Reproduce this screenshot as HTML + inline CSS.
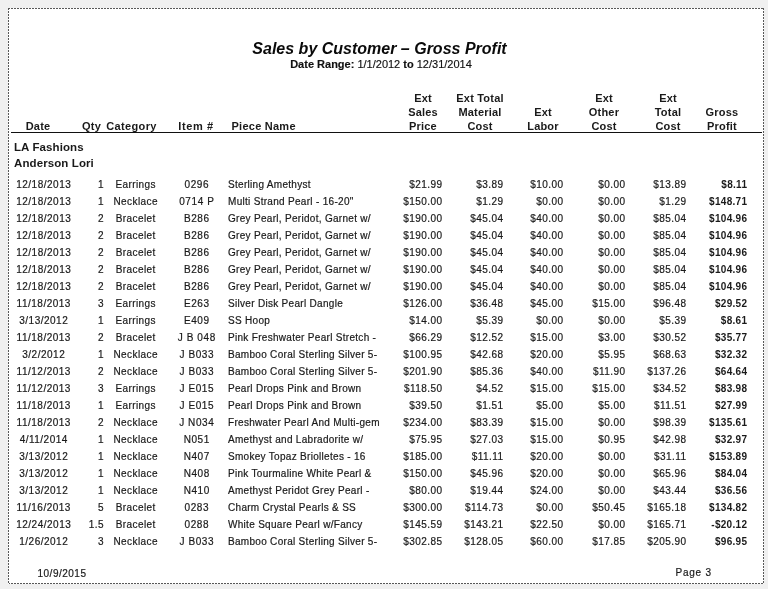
<!DOCTYPE html>
<html><head><meta charset="utf-8">
<style>
html,body{margin:0;padding:0}
body{width:768px;height:589px;background:#f0f0f0;position:relative;overflow:hidden;font-family:"Liberation Sans",sans-serif;color:#1a1a1a}
.page{position:absolute;left:8px;top:8px;width:756px;height:576px;background:#fff}
.bt,.bb{position:absolute;left:8px;width:756px;height:1px;background:repeating-linear-gradient(to right,#585858 0,#585858 2px,#fff 2px,#fff 3px)}
.bl,.br{position:absolute;top:8px;height:576px;width:1px;background:repeating-linear-gradient(to bottom,#585858 0,#585858 2px,#fff 2px,#fff 3px)}
.a{position:absolute;white-space:nowrap}
.d{position:absolute;white-space:nowrap;font-size:10px;line-height:10px;letter-spacing:0.3px;-webkit-text-stroke:0.2px #1a1a1a}
.b{font-weight:bold;-webkit-text-stroke:0;font-size:10px}
.wrap{position:absolute;left:0;top:0;width:768px;height:589px;will-change:transform}
.h{position:absolute;white-space:nowrap;font-size:11px;line-height:14px;font-weight:bold;text-align:center;letter-spacing:0.2px}
.title{position:absolute;left:0;width:768px;text-align:center;font-size:16px;font-weight:bold;font-style:italic;line-height:16px;color:#0a0a0a}
.range{position:absolute;left:0;width:768px;text-align:center;font-size:11px;line-height:11px;color:#111;-webkit-text-stroke:0.15px #111}
.rule{position:absolute;left:11px;width:751px;top:132px;height:1px;background:#111}
.grp{position:absolute;left:14px;font-size:11.5px;font-weight:bold;line-height:12px;letter-spacing:0.1px}
</style></head><body><div class="wrap">
<div class="page"></div><div class="bt" style="top:8px"></div><div class="bb" style="top:583px"></div><div class="bl" style="left:8px"></div><div class="br" style="left:763px"></div>
<div class="title" style="top:41px;left:-4.5px">Sales by Customer – Gross Profit</div>
<div class="range" style="top:59px;left:-3px"><b>Date Range:</b> 1/1/2012 <b>to</b> 12/31/2014</div>

<div class="h" style="left:-67px;width:210px;top:119px;letter-spacing:0.15px">Date</div>
<div class="h" style="left:-8.5px;width:200px;top:119px">Qty</div>
<div class="h" style="left:26.5px;width:210px;top:119px;letter-spacing:0.35px">Category</div>
<div class="h" style="left:96px;width:200px;top:119px;letter-spacing:0.6px">Item #</div>
<div class="h" style="left:231.5px;top:119px;letter-spacing:0.25px">Piece Name</div>
<div class="h" style="left:373px;width:100px;top:91px">Ext<br>Sales<br>Price</div>
<div class="h" style="left:430px;width:100px;top:91px">Ext Total<br>Material<br>Cost</div>
<div class="h" style="left:493px;width:100px;top:105px">Ext<br>Labor</div>
<div class="h" style="left:554px;width:100px;top:91px">Ext<br>Other<br>Cost</div>
<div class="h" style="left:618px;width:100px;top:91px">Ext<br>Total<br>Cost</div>
<div class="h" style="left:672px;width:100px;top:105px">Gross<br>Profit</div>
<div class="rule"></div>

<div class="grp" style="top:141px">LA Fashions</div>
<div class="grp" style="top:157px">Anderson Lori</div>

<div class="d" style="top:180px;left:-56.25px;width:200px;text-align:center;letter-spacing:0.5px">12/18/2013</div>
<div class="d" style="top:180px;left:-96.05px;width:200px;text-align:right;letter-spacing:0.45px">1</div>
<div class="d" style="top:180px;left:35.71px;width:200px;text-align:center;letter-spacing:0.42px">Earrings</div>
<div class="d" style="top:180px;left:96.8px;width:200px;text-align:center;letter-spacing:0.6px">0296</div>
<div class="d" style="top:180px;left:228px;letter-spacing:0.3px">Sterling Amethyst</div>
<div class="d" style="top:180px;left:242.45px;width:200px;text-align:right;letter-spacing:0.45px">$21.99</div>
<div class="d" style="top:180px;left:303.45px;width:200px;text-align:right;letter-spacing:0.45px">$3.89</div>
<div class="d" style="top:180px;left:363.45px;width:200px;text-align:right;letter-spacing:0.45px">$10.00</div>
<div class="d" style="top:180px;left:425.45px;width:200px;text-align:right;letter-spacing:0.45px">$0.00</div>
<div class="d" style="top:180px;left:486.45px;width:200px;text-align:right;letter-spacing:0.45px">$13.89</div>
<div class="d b" style="top:180px;left:547.3px;width:200px;text-align:right;letter-spacing:0.3px">$8.11</div>
<div class="d" style="top:197px;left:-56.25px;width:200px;text-align:center;letter-spacing:0.5px">12/18/2013</div>
<div class="d" style="top:197px;left:-96.05px;width:200px;text-align:right;letter-spacing:0.45px">1</div>
<div class="d" style="top:197px;left:35.71px;width:200px;text-align:center;letter-spacing:0.42px">Necklace</div>
<div class="d" style="top:197px;left:96.8px;width:200px;text-align:center;letter-spacing:0.6px">0714 P</div>
<div class="d" style="top:197px;left:228px;letter-spacing:0.3px">Multi Strand Pearl - 16-20"</div>
<div class="d" style="top:197px;left:242.45px;width:200px;text-align:right;letter-spacing:0.45px">$150.00</div>
<div class="d" style="top:197px;left:303.45px;width:200px;text-align:right;letter-spacing:0.45px">$1.29</div>
<div class="d" style="top:197px;left:363.45px;width:200px;text-align:right;letter-spacing:0.45px">$0.00</div>
<div class="d" style="top:197px;left:425.45px;width:200px;text-align:right;letter-spacing:0.45px">$0.00</div>
<div class="d" style="top:197px;left:486.45px;width:200px;text-align:right;letter-spacing:0.45px">$1.29</div>
<div class="d b" style="top:197px;left:547.3px;width:200px;text-align:right;letter-spacing:0.3px">$148.71</div>
<div class="d" style="top:214px;left:-56.25px;width:200px;text-align:center;letter-spacing:0.5px">12/18/2013</div>
<div class="d" style="top:214px;left:-96.05px;width:200px;text-align:right;letter-spacing:0.45px">2</div>
<div class="d" style="top:214px;left:35.71px;width:200px;text-align:center;letter-spacing:0.42px">Bracelet</div>
<div class="d" style="top:214px;left:96.8px;width:200px;text-align:center;letter-spacing:0.6px">B286</div>
<div class="d" style="top:214px;left:228px;letter-spacing:0.3px">Grey Pearl, Peridot, Garnet w/</div>
<div class="d" style="top:214px;left:242.45px;width:200px;text-align:right;letter-spacing:0.45px">$190.00</div>
<div class="d" style="top:214px;left:303.45px;width:200px;text-align:right;letter-spacing:0.45px">$45.04</div>
<div class="d" style="top:214px;left:363.45px;width:200px;text-align:right;letter-spacing:0.45px">$40.00</div>
<div class="d" style="top:214px;left:425.45px;width:200px;text-align:right;letter-spacing:0.45px">$0.00</div>
<div class="d" style="top:214px;left:486.45px;width:200px;text-align:right;letter-spacing:0.45px">$85.04</div>
<div class="d b" style="top:214px;left:547.3px;width:200px;text-align:right;letter-spacing:0.3px">$104.96</div>
<div class="d" style="top:231px;left:-56.25px;width:200px;text-align:center;letter-spacing:0.5px">12/18/2013</div>
<div class="d" style="top:231px;left:-96.05px;width:200px;text-align:right;letter-spacing:0.45px">2</div>
<div class="d" style="top:231px;left:35.71px;width:200px;text-align:center;letter-spacing:0.42px">Bracelet</div>
<div class="d" style="top:231px;left:96.8px;width:200px;text-align:center;letter-spacing:0.6px">B286</div>
<div class="d" style="top:231px;left:228px;letter-spacing:0.3px">Grey Pearl, Peridot, Garnet w/</div>
<div class="d" style="top:231px;left:242.45px;width:200px;text-align:right;letter-spacing:0.45px">$190.00</div>
<div class="d" style="top:231px;left:303.45px;width:200px;text-align:right;letter-spacing:0.45px">$45.04</div>
<div class="d" style="top:231px;left:363.45px;width:200px;text-align:right;letter-spacing:0.45px">$40.00</div>
<div class="d" style="top:231px;left:425.45px;width:200px;text-align:right;letter-spacing:0.45px">$0.00</div>
<div class="d" style="top:231px;left:486.45px;width:200px;text-align:right;letter-spacing:0.45px">$85.04</div>
<div class="d b" style="top:231px;left:547.3px;width:200px;text-align:right;letter-spacing:0.3px">$104.96</div>
<div class="d" style="top:248px;left:-56.25px;width:200px;text-align:center;letter-spacing:0.5px">12/18/2013</div>
<div class="d" style="top:248px;left:-96.05px;width:200px;text-align:right;letter-spacing:0.45px">2</div>
<div class="d" style="top:248px;left:35.71px;width:200px;text-align:center;letter-spacing:0.42px">Bracelet</div>
<div class="d" style="top:248px;left:96.8px;width:200px;text-align:center;letter-spacing:0.6px">B286</div>
<div class="d" style="top:248px;left:228px;letter-spacing:0.3px">Grey Pearl, Peridot, Garnet w/</div>
<div class="d" style="top:248px;left:242.45px;width:200px;text-align:right;letter-spacing:0.45px">$190.00</div>
<div class="d" style="top:248px;left:303.45px;width:200px;text-align:right;letter-spacing:0.45px">$45.04</div>
<div class="d" style="top:248px;left:363.45px;width:200px;text-align:right;letter-spacing:0.45px">$40.00</div>
<div class="d" style="top:248px;left:425.45px;width:200px;text-align:right;letter-spacing:0.45px">$0.00</div>
<div class="d" style="top:248px;left:486.45px;width:200px;text-align:right;letter-spacing:0.45px">$85.04</div>
<div class="d b" style="top:248px;left:547.3px;width:200px;text-align:right;letter-spacing:0.3px">$104.96</div>
<div class="d" style="top:265px;left:-56.25px;width:200px;text-align:center;letter-spacing:0.5px">12/18/2013</div>
<div class="d" style="top:265px;left:-96.05px;width:200px;text-align:right;letter-spacing:0.45px">2</div>
<div class="d" style="top:265px;left:35.71px;width:200px;text-align:center;letter-spacing:0.42px">Bracelet</div>
<div class="d" style="top:265px;left:96.8px;width:200px;text-align:center;letter-spacing:0.6px">B286</div>
<div class="d" style="top:265px;left:228px;letter-spacing:0.3px">Grey Pearl, Peridot, Garnet w/</div>
<div class="d" style="top:265px;left:242.45px;width:200px;text-align:right;letter-spacing:0.45px">$190.00</div>
<div class="d" style="top:265px;left:303.45px;width:200px;text-align:right;letter-spacing:0.45px">$45.04</div>
<div class="d" style="top:265px;left:363.45px;width:200px;text-align:right;letter-spacing:0.45px">$40.00</div>
<div class="d" style="top:265px;left:425.45px;width:200px;text-align:right;letter-spacing:0.45px">$0.00</div>
<div class="d" style="top:265px;left:486.45px;width:200px;text-align:right;letter-spacing:0.45px">$85.04</div>
<div class="d b" style="top:265px;left:547.3px;width:200px;text-align:right;letter-spacing:0.3px">$104.96</div>
<div class="d" style="top:282px;left:-56.25px;width:200px;text-align:center;letter-spacing:0.5px">12/18/2013</div>
<div class="d" style="top:282px;left:-96.05px;width:200px;text-align:right;letter-spacing:0.45px">2</div>
<div class="d" style="top:282px;left:35.71px;width:200px;text-align:center;letter-spacing:0.42px">Bracelet</div>
<div class="d" style="top:282px;left:96.8px;width:200px;text-align:center;letter-spacing:0.6px">B286</div>
<div class="d" style="top:282px;left:228px;letter-spacing:0.3px">Grey Pearl, Peridot, Garnet w/</div>
<div class="d" style="top:282px;left:242.45px;width:200px;text-align:right;letter-spacing:0.45px">$190.00</div>
<div class="d" style="top:282px;left:303.45px;width:200px;text-align:right;letter-spacing:0.45px">$45.04</div>
<div class="d" style="top:282px;left:363.45px;width:200px;text-align:right;letter-spacing:0.45px">$40.00</div>
<div class="d" style="top:282px;left:425.45px;width:200px;text-align:right;letter-spacing:0.45px">$0.00</div>
<div class="d" style="top:282px;left:486.45px;width:200px;text-align:right;letter-spacing:0.45px">$85.04</div>
<div class="d b" style="top:282px;left:547.3px;width:200px;text-align:right;letter-spacing:0.3px">$104.96</div>
<div class="d" style="top:299px;left:-56.25px;width:200px;text-align:center;letter-spacing:0.5px">11/18/2013</div>
<div class="d" style="top:299px;left:-96.05px;width:200px;text-align:right;letter-spacing:0.45px">3</div>
<div class="d" style="top:299px;left:35.71px;width:200px;text-align:center;letter-spacing:0.42px">Earrings</div>
<div class="d" style="top:299px;left:96.8px;width:200px;text-align:center;letter-spacing:0.6px">E263</div>
<div class="d" style="top:299px;left:228px;letter-spacing:0.3px">Silver Disk Pearl Dangle</div>
<div class="d" style="top:299px;left:242.45px;width:200px;text-align:right;letter-spacing:0.45px">$126.00</div>
<div class="d" style="top:299px;left:303.45px;width:200px;text-align:right;letter-spacing:0.45px">$36.48</div>
<div class="d" style="top:299px;left:363.45px;width:200px;text-align:right;letter-spacing:0.45px">$45.00</div>
<div class="d" style="top:299px;left:425.45px;width:200px;text-align:right;letter-spacing:0.45px">$15.00</div>
<div class="d" style="top:299px;left:486.45px;width:200px;text-align:right;letter-spacing:0.45px">$96.48</div>
<div class="d b" style="top:299px;left:547.3px;width:200px;text-align:right;letter-spacing:0.3px">$29.52</div>
<div class="d" style="top:316px;left:-56.25px;width:200px;text-align:center;letter-spacing:0.5px">3/13/2012</div>
<div class="d" style="top:316px;left:-96.05px;width:200px;text-align:right;letter-spacing:0.45px">1</div>
<div class="d" style="top:316px;left:35.71px;width:200px;text-align:center;letter-spacing:0.42px">Earrings</div>
<div class="d" style="top:316px;left:96.8px;width:200px;text-align:center;letter-spacing:0.6px">E409</div>
<div class="d" style="top:316px;left:228px;letter-spacing:0.3px">SS Hoop</div>
<div class="d" style="top:316px;left:242.45px;width:200px;text-align:right;letter-spacing:0.45px">$14.00</div>
<div class="d" style="top:316px;left:303.45px;width:200px;text-align:right;letter-spacing:0.45px">$5.39</div>
<div class="d" style="top:316px;left:363.45px;width:200px;text-align:right;letter-spacing:0.45px">$0.00</div>
<div class="d" style="top:316px;left:425.45px;width:200px;text-align:right;letter-spacing:0.45px">$0.00</div>
<div class="d" style="top:316px;left:486.45px;width:200px;text-align:right;letter-spacing:0.45px">$5.39</div>
<div class="d b" style="top:316px;left:547.3px;width:200px;text-align:right;letter-spacing:0.3px">$8.61</div>
<div class="d" style="top:333px;left:-56.25px;width:200px;text-align:center;letter-spacing:0.5px">11/18/2013</div>
<div class="d" style="top:333px;left:-96.05px;width:200px;text-align:right;letter-spacing:0.45px">2</div>
<div class="d" style="top:333px;left:35.71px;width:200px;text-align:center;letter-spacing:0.42px">Bracelet</div>
<div class="d" style="top:333px;left:96.8px;width:200px;text-align:center;letter-spacing:0.6px">J B 048</div>
<div class="d" style="top:333px;left:228px;letter-spacing:0.3px">Pink Freshwater Pearl Stretch -</div>
<div class="d" style="top:333px;left:242.45px;width:200px;text-align:right;letter-spacing:0.45px">$66.29</div>
<div class="d" style="top:333px;left:303.45px;width:200px;text-align:right;letter-spacing:0.45px">$12.52</div>
<div class="d" style="top:333px;left:363.45px;width:200px;text-align:right;letter-spacing:0.45px">$15.00</div>
<div class="d" style="top:333px;left:425.45px;width:200px;text-align:right;letter-spacing:0.45px">$3.00</div>
<div class="d" style="top:333px;left:486.45px;width:200px;text-align:right;letter-spacing:0.45px">$30.52</div>
<div class="d b" style="top:333px;left:547.3px;width:200px;text-align:right;letter-spacing:0.3px">$35.77</div>
<div class="d" style="top:350px;left:-56.25px;width:200px;text-align:center;letter-spacing:0.5px">3/2/2012</div>
<div class="d" style="top:350px;left:-96.05px;width:200px;text-align:right;letter-spacing:0.45px">1</div>
<div class="d" style="top:350px;left:35.71px;width:200px;text-align:center;letter-spacing:0.42px">Necklace</div>
<div class="d" style="top:350px;left:96.8px;width:200px;text-align:center;letter-spacing:0.6px">J B033</div>
<div class="d" style="top:350px;left:228px;letter-spacing:0.3px">Bamboo Coral Sterling Silver 5-</div>
<div class="d" style="top:350px;left:242.45px;width:200px;text-align:right;letter-spacing:0.45px">$100.95</div>
<div class="d" style="top:350px;left:303.45px;width:200px;text-align:right;letter-spacing:0.45px">$42.68</div>
<div class="d" style="top:350px;left:363.45px;width:200px;text-align:right;letter-spacing:0.45px">$20.00</div>
<div class="d" style="top:350px;left:425.45px;width:200px;text-align:right;letter-spacing:0.45px">$5.95</div>
<div class="d" style="top:350px;left:486.45px;width:200px;text-align:right;letter-spacing:0.45px">$68.63</div>
<div class="d b" style="top:350px;left:547.3px;width:200px;text-align:right;letter-spacing:0.3px">$32.32</div>
<div class="d" style="top:367px;left:-56.25px;width:200px;text-align:center;letter-spacing:0.5px">11/12/2013</div>
<div class="d" style="top:367px;left:-96.05px;width:200px;text-align:right;letter-spacing:0.45px">2</div>
<div class="d" style="top:367px;left:35.71px;width:200px;text-align:center;letter-spacing:0.42px">Necklace</div>
<div class="d" style="top:367px;left:96.8px;width:200px;text-align:center;letter-spacing:0.6px">J B033</div>
<div class="d" style="top:367px;left:228px;letter-spacing:0.3px">Bamboo Coral Sterling Silver 5-</div>
<div class="d" style="top:367px;left:242.45px;width:200px;text-align:right;letter-spacing:0.45px">$201.90</div>
<div class="d" style="top:367px;left:303.45px;width:200px;text-align:right;letter-spacing:0.45px">$85.36</div>
<div class="d" style="top:367px;left:363.45px;width:200px;text-align:right;letter-spacing:0.45px">$40.00</div>
<div class="d" style="top:367px;left:425.45px;width:200px;text-align:right;letter-spacing:0.45px">$11.90</div>
<div class="d" style="top:367px;left:486.45px;width:200px;text-align:right;letter-spacing:0.45px">$137.26</div>
<div class="d b" style="top:367px;left:547.3px;width:200px;text-align:right;letter-spacing:0.3px">$64.64</div>
<div class="d" style="top:384px;left:-56.25px;width:200px;text-align:center;letter-spacing:0.5px">11/12/2013</div>
<div class="d" style="top:384px;left:-96.05px;width:200px;text-align:right;letter-spacing:0.45px">3</div>
<div class="d" style="top:384px;left:35.71px;width:200px;text-align:center;letter-spacing:0.42px">Earrings</div>
<div class="d" style="top:384px;left:96.8px;width:200px;text-align:center;letter-spacing:0.6px">J E015</div>
<div class="d" style="top:384px;left:228px;letter-spacing:0.3px">Pearl Drops Pink and Brown</div>
<div class="d" style="top:384px;left:242.45px;width:200px;text-align:right;letter-spacing:0.45px">$118.50</div>
<div class="d" style="top:384px;left:303.45px;width:200px;text-align:right;letter-spacing:0.45px">$4.52</div>
<div class="d" style="top:384px;left:363.45px;width:200px;text-align:right;letter-spacing:0.45px">$15.00</div>
<div class="d" style="top:384px;left:425.45px;width:200px;text-align:right;letter-spacing:0.45px">$15.00</div>
<div class="d" style="top:384px;left:486.45px;width:200px;text-align:right;letter-spacing:0.45px">$34.52</div>
<div class="d b" style="top:384px;left:547.3px;width:200px;text-align:right;letter-spacing:0.3px">$83.98</div>
<div class="d" style="top:401px;left:-56.25px;width:200px;text-align:center;letter-spacing:0.5px">11/18/2013</div>
<div class="d" style="top:401px;left:-96.05px;width:200px;text-align:right;letter-spacing:0.45px">1</div>
<div class="d" style="top:401px;left:35.71px;width:200px;text-align:center;letter-spacing:0.42px">Earrings</div>
<div class="d" style="top:401px;left:96.8px;width:200px;text-align:center;letter-spacing:0.6px">J E015</div>
<div class="d" style="top:401px;left:228px;letter-spacing:0.3px">Pearl Drops Pink and Brown</div>
<div class="d" style="top:401px;left:242.45px;width:200px;text-align:right;letter-spacing:0.45px">$39.50</div>
<div class="d" style="top:401px;left:303.45px;width:200px;text-align:right;letter-spacing:0.45px">$1.51</div>
<div class="d" style="top:401px;left:363.45px;width:200px;text-align:right;letter-spacing:0.45px">$5.00</div>
<div class="d" style="top:401px;left:425.45px;width:200px;text-align:right;letter-spacing:0.45px">$5.00</div>
<div class="d" style="top:401px;left:486.45px;width:200px;text-align:right;letter-spacing:0.45px">$11.51</div>
<div class="d b" style="top:401px;left:547.3px;width:200px;text-align:right;letter-spacing:0.3px">$27.99</div>
<div class="d" style="top:418px;left:-56.25px;width:200px;text-align:center;letter-spacing:0.5px">11/18/2013</div>
<div class="d" style="top:418px;left:-96.05px;width:200px;text-align:right;letter-spacing:0.45px">2</div>
<div class="d" style="top:418px;left:35.71px;width:200px;text-align:center;letter-spacing:0.42px">Necklace</div>
<div class="d" style="top:418px;left:96.8px;width:200px;text-align:center;letter-spacing:0.6px">J N034</div>
<div class="d" style="top:418px;left:228px;letter-spacing:0.3px">Freshwater Pearl And Multi-gem</div>
<div class="d" style="top:418px;left:242.45px;width:200px;text-align:right;letter-spacing:0.45px">$234.00</div>
<div class="d" style="top:418px;left:303.45px;width:200px;text-align:right;letter-spacing:0.45px">$83.39</div>
<div class="d" style="top:418px;left:363.45px;width:200px;text-align:right;letter-spacing:0.45px">$15.00</div>
<div class="d" style="top:418px;left:425.45px;width:200px;text-align:right;letter-spacing:0.45px">$0.00</div>
<div class="d" style="top:418px;left:486.45px;width:200px;text-align:right;letter-spacing:0.45px">$98.39</div>
<div class="d b" style="top:418px;left:547.3px;width:200px;text-align:right;letter-spacing:0.3px">$135.61</div>
<div class="d" style="top:435px;left:-56.25px;width:200px;text-align:center;letter-spacing:0.5px">4/11/2014</div>
<div class="d" style="top:435px;left:-96.05px;width:200px;text-align:right;letter-spacing:0.45px">1</div>
<div class="d" style="top:435px;left:35.71px;width:200px;text-align:center;letter-spacing:0.42px">Necklace</div>
<div class="d" style="top:435px;left:96.8px;width:200px;text-align:center;letter-spacing:0.6px">N051</div>
<div class="d" style="top:435px;left:228px;letter-spacing:0.3px">Amethyst and Labradorite w/</div>
<div class="d" style="top:435px;left:242.45px;width:200px;text-align:right;letter-spacing:0.45px">$75.95</div>
<div class="d" style="top:435px;left:303.45px;width:200px;text-align:right;letter-spacing:0.45px">$27.03</div>
<div class="d" style="top:435px;left:363.45px;width:200px;text-align:right;letter-spacing:0.45px">$15.00</div>
<div class="d" style="top:435px;left:425.45px;width:200px;text-align:right;letter-spacing:0.45px">$0.95</div>
<div class="d" style="top:435px;left:486.45px;width:200px;text-align:right;letter-spacing:0.45px">$42.98</div>
<div class="d b" style="top:435px;left:547.3px;width:200px;text-align:right;letter-spacing:0.3px">$32.97</div>
<div class="d" style="top:452px;left:-56.25px;width:200px;text-align:center;letter-spacing:0.5px">3/13/2012</div>
<div class="d" style="top:452px;left:-96.05px;width:200px;text-align:right;letter-spacing:0.45px">1</div>
<div class="d" style="top:452px;left:35.71px;width:200px;text-align:center;letter-spacing:0.42px">Necklace</div>
<div class="d" style="top:452px;left:96.8px;width:200px;text-align:center;letter-spacing:0.6px">N407</div>
<div class="d" style="top:452px;left:228px;letter-spacing:0.3px">Smokey Topaz Briolletes - 16</div>
<div class="d" style="top:452px;left:242.45px;width:200px;text-align:right;letter-spacing:0.45px">$185.00</div>
<div class="d" style="top:452px;left:303.45px;width:200px;text-align:right;letter-spacing:0.45px">$11.11</div>
<div class="d" style="top:452px;left:363.45px;width:200px;text-align:right;letter-spacing:0.45px">$20.00</div>
<div class="d" style="top:452px;left:425.45px;width:200px;text-align:right;letter-spacing:0.45px">$0.00</div>
<div class="d" style="top:452px;left:486.45px;width:200px;text-align:right;letter-spacing:0.45px">$31.11</div>
<div class="d b" style="top:452px;left:547.3px;width:200px;text-align:right;letter-spacing:0.3px">$153.89</div>
<div class="d" style="top:469px;left:-56.25px;width:200px;text-align:center;letter-spacing:0.5px">3/13/2012</div>
<div class="d" style="top:469px;left:-96.05px;width:200px;text-align:right;letter-spacing:0.45px">1</div>
<div class="d" style="top:469px;left:35.71px;width:200px;text-align:center;letter-spacing:0.42px">Necklace</div>
<div class="d" style="top:469px;left:96.8px;width:200px;text-align:center;letter-spacing:0.6px">N408</div>
<div class="d" style="top:469px;left:228px;letter-spacing:0.3px">Pink Tourmaline White Pearl &amp;</div>
<div class="d" style="top:469px;left:242.45px;width:200px;text-align:right;letter-spacing:0.45px">$150.00</div>
<div class="d" style="top:469px;left:303.45px;width:200px;text-align:right;letter-spacing:0.45px">$45.96</div>
<div class="d" style="top:469px;left:363.45px;width:200px;text-align:right;letter-spacing:0.45px">$20.00</div>
<div class="d" style="top:469px;left:425.45px;width:200px;text-align:right;letter-spacing:0.45px">$0.00</div>
<div class="d" style="top:469px;left:486.45px;width:200px;text-align:right;letter-spacing:0.45px">$65.96</div>
<div class="d b" style="top:469px;left:547.3px;width:200px;text-align:right;letter-spacing:0.3px">$84.04</div>
<div class="d" style="top:486px;left:-56.25px;width:200px;text-align:center;letter-spacing:0.5px">3/13/2012</div>
<div class="d" style="top:486px;left:-96.05px;width:200px;text-align:right;letter-spacing:0.45px">1</div>
<div class="d" style="top:486px;left:35.71px;width:200px;text-align:center;letter-spacing:0.42px">Necklace</div>
<div class="d" style="top:486px;left:96.8px;width:200px;text-align:center;letter-spacing:0.6px">N410</div>
<div class="d" style="top:486px;left:228px;letter-spacing:0.3px">Amethyst Peridot Grey Pearl -</div>
<div class="d" style="top:486px;left:242.45px;width:200px;text-align:right;letter-spacing:0.45px">$80.00</div>
<div class="d" style="top:486px;left:303.45px;width:200px;text-align:right;letter-spacing:0.45px">$19.44</div>
<div class="d" style="top:486px;left:363.45px;width:200px;text-align:right;letter-spacing:0.45px">$24.00</div>
<div class="d" style="top:486px;left:425.45px;width:200px;text-align:right;letter-spacing:0.45px">$0.00</div>
<div class="d" style="top:486px;left:486.45px;width:200px;text-align:right;letter-spacing:0.45px">$43.44</div>
<div class="d b" style="top:486px;left:547.3px;width:200px;text-align:right;letter-spacing:0.3px">$36.56</div>
<div class="d" style="top:503px;left:-56.25px;width:200px;text-align:center;letter-spacing:0.5px">11/16/2013</div>
<div class="d" style="top:503px;left:-96.05px;width:200px;text-align:right;letter-spacing:0.45px">5</div>
<div class="d" style="top:503px;left:35.71px;width:200px;text-align:center;letter-spacing:0.42px">Bracelet</div>
<div class="d" style="top:503px;left:96.8px;width:200px;text-align:center;letter-spacing:0.6px">0283</div>
<div class="d" style="top:503px;left:228px;letter-spacing:0.3px">Charm Crystal Pearls &amp; SS</div>
<div class="d" style="top:503px;left:242.45px;width:200px;text-align:right;letter-spacing:0.45px">$300.00</div>
<div class="d" style="top:503px;left:303.45px;width:200px;text-align:right;letter-spacing:0.45px">$114.73</div>
<div class="d" style="top:503px;left:363.45px;width:200px;text-align:right;letter-spacing:0.45px">$0.00</div>
<div class="d" style="top:503px;left:425.45px;width:200px;text-align:right;letter-spacing:0.45px">$50.45</div>
<div class="d" style="top:503px;left:486.45px;width:200px;text-align:right;letter-spacing:0.45px">$165.18</div>
<div class="d b" style="top:503px;left:547.3px;width:200px;text-align:right;letter-spacing:0.3px">$134.82</div>
<div class="d" style="top:520px;left:-56.25px;width:200px;text-align:center;letter-spacing:0.5px">12/24/2013</div>
<div class="d" style="top:520px;left:-96.05px;width:200px;text-align:right;letter-spacing:0.45px">1.5</div>
<div class="d" style="top:520px;left:35.71px;width:200px;text-align:center;letter-spacing:0.42px">Bracelet</div>
<div class="d" style="top:520px;left:96.8px;width:200px;text-align:center;letter-spacing:0.6px">0288</div>
<div class="d" style="top:520px;left:228px;letter-spacing:0.3px">White Square Pearl w/Fancy</div>
<div class="d" style="top:520px;left:242.45px;width:200px;text-align:right;letter-spacing:0.45px">$145.59</div>
<div class="d" style="top:520px;left:303.45px;width:200px;text-align:right;letter-spacing:0.45px">$143.21</div>
<div class="d" style="top:520px;left:363.45px;width:200px;text-align:right;letter-spacing:0.45px">$22.50</div>
<div class="d" style="top:520px;left:425.45px;width:200px;text-align:right;letter-spacing:0.45px">$0.00</div>
<div class="d" style="top:520px;left:486.45px;width:200px;text-align:right;letter-spacing:0.45px">$165.71</div>
<div class="d b" style="top:520px;left:547.3px;width:200px;text-align:right;letter-spacing:0.3px">-$20.12</div>
<div class="d" style="top:537px;left:-56.25px;width:200px;text-align:center;letter-spacing:0.5px">1/26/2012</div>
<div class="d" style="top:537px;left:-96.05px;width:200px;text-align:right;letter-spacing:0.45px">3</div>
<div class="d" style="top:537px;left:35.71px;width:200px;text-align:center;letter-spacing:0.42px">Necklace</div>
<div class="d" style="top:537px;left:96.8px;width:200px;text-align:center;letter-spacing:0.6px">J B033</div>
<div class="d" style="top:537px;left:228px;letter-spacing:0.3px">Bamboo Coral Sterling Silver 5-</div>
<div class="d" style="top:537px;left:242.45px;width:200px;text-align:right;letter-spacing:0.45px">$302.85</div>
<div class="d" style="top:537px;left:303.45px;width:200px;text-align:right;letter-spacing:0.45px">$128.05</div>
<div class="d" style="top:537px;left:363.45px;width:200px;text-align:right;letter-spacing:0.45px">$60.00</div>
<div class="d" style="top:537px;left:425.45px;width:200px;text-align:right;letter-spacing:0.45px">$17.85</div>
<div class="d" style="top:537px;left:486.45px;width:200px;text-align:right;letter-spacing:0.45px">$205.90</div>
<div class="d b" style="top:537px;left:547.3px;width:200px;text-align:right;letter-spacing:0.3px">$96.95</div>

<div class="d" style="left:37.5px;top:569px;font-size:10px;letter-spacing:0.5px">10/9/2015</div>
<div class="d" style="left:675.5px;top:568px;font-size:10px;letter-spacing:0.75px">Page 3</div>
</div></body></html>
